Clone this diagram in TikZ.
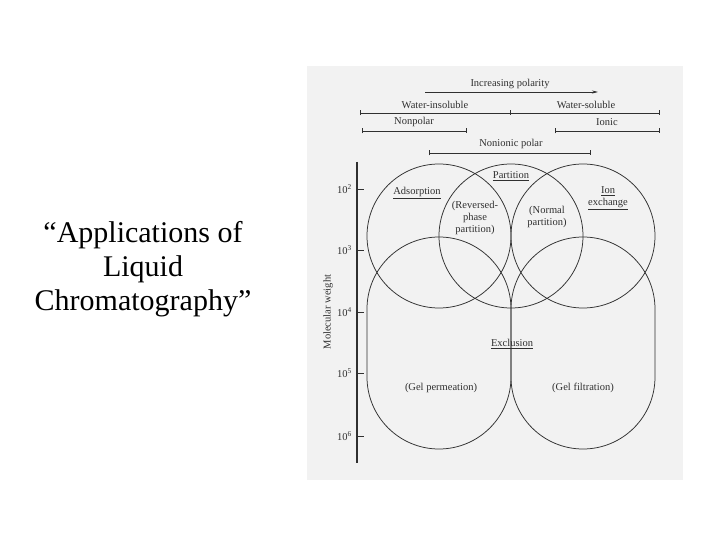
\documentclass[tikz,border=0pt]{standalone}
\usepackage{fontspec}
\setmainfont{Liberation Serif}
\usetikzlibrary{arrows.meta}
\definecolor{scanbg}{HTML}{F2F2F2}
\definecolor{ink}{HTML}{303030}
\tikzset{
  lbl/.style={font=\fontsize{10.5}{12}\selectfont, text=ink, inner sep=0pt, align=center},
  shp/.style={draw=ink, line width=0.75pt},
  bar/.style={draw=ink, line width=0.75pt, {Bar[width=5pt]}-{Bar[width=5pt]}},
}
\begin{document}
\begin{tikzpicture}[x=1pt,y=-1pt]
\useasboundingbox (0,0) rectangle (720,540);
\fill[white] (0,0) rectangle (720,540);
\fill[scanbg] (307,66) rectangle (683,480);

% title
\node[font=\fontsize{30}{34}\selectfont, align=center, inner sep=0pt] (title) at (143,269)
  {“Applications of\\Liquid\\Chromatography”};

% top range bars
\node[lbl] (incpol) at (510,84) {Increasing polarity};
\coordinate (ia) at (425,92); \coordinate (ib) at (598,92);
\draw[ink, line width=0.75pt, -{Stealth[length=6pt,width=3pt]}] (ia) -- (ib);

\node[lbl] (winsol) at (435,105) {Water-insoluble};
\node[lbl] (wsol) at (586,105) {Water-soluble};
\coordinate (wa) at (360,113); \coordinate (wm) at (510,113); \coordinate (wb) at (660,113);
\draw[bar] (wa) -- (wb);
\draw[ink, line width=0.75pt] (510,110.5) -- (510,115.5);

\node[lbl] (nonpol) at (414,122) {Nonpolar};
\coordinate (na) at (362,131); \coordinate (nb) at (467,131);
\draw[bar] (na) -- (nb);

\node[lbl] (ionic) at (607,122) {Ionic};
\coordinate (ioa) at (555,131); \coordinate (iob) at (660,131);
\draw[bar] (ioa) -- (iob);

\node[lbl] (nonion) at (511,144) {Nonionic polar};
\coordinate (pa) at (429,153); \coordinate (pb) at (591,153);
\draw[bar] (pa) -- (pb);

% axis
\coordinate (axtop) at (357,162); \coordinate (axbot) at (357,463);
\draw[ink, line width=1.1pt] (axtop) -- (axbot);
\foreach \yy/\ee in {189/2,250/3,312/4,373/5,436/6}{
  \draw[ink, line width=0.75pt] (357,\yy) -- (364,\yy);
  \node[lbl, anchor=east] at (352,\yy) {10\textsuperscript{\ee}};
}
\node[lbl, rotate=90] (molw) at (328,312) {Molecular weight};

% circles
\draw[shp] (439,236) circle[radius=72];
\draw[shp] (511,236) circle[radius=72];
\draw[shp] (583,236) circle[radius=72];
% exclusion stadiums
\draw[shp, rounded corners=72pt] (367,237) rectangle (511,449);
\draw[shp, rounded corners=72pt] (511,237) rectangle (655,449);

% labels
\node[lbl] (ads) at (417,193) {\underline{Adsorption}};
\node[lbl] (part) at (511,176) {\underline{Partition}};
\node[lbl] (rev) at (475,218) {(Reversed-\\phase\\partition)};
\node[lbl] (norm) at (547,217) {(Normal\\partition)};
\node[lbl] (ion) at (608,198) {\underline{Ion}\\\underline{exchange}};
\node[lbl] (excl) at (512,344) {\underline{Exclusion}};
\node[lbl] (gelp) at (441,388) {(Gel permeation)};
\node[lbl] (gelf) at (583,388) {(Gel filtration)};
\end{tikzpicture}
\end{document}
